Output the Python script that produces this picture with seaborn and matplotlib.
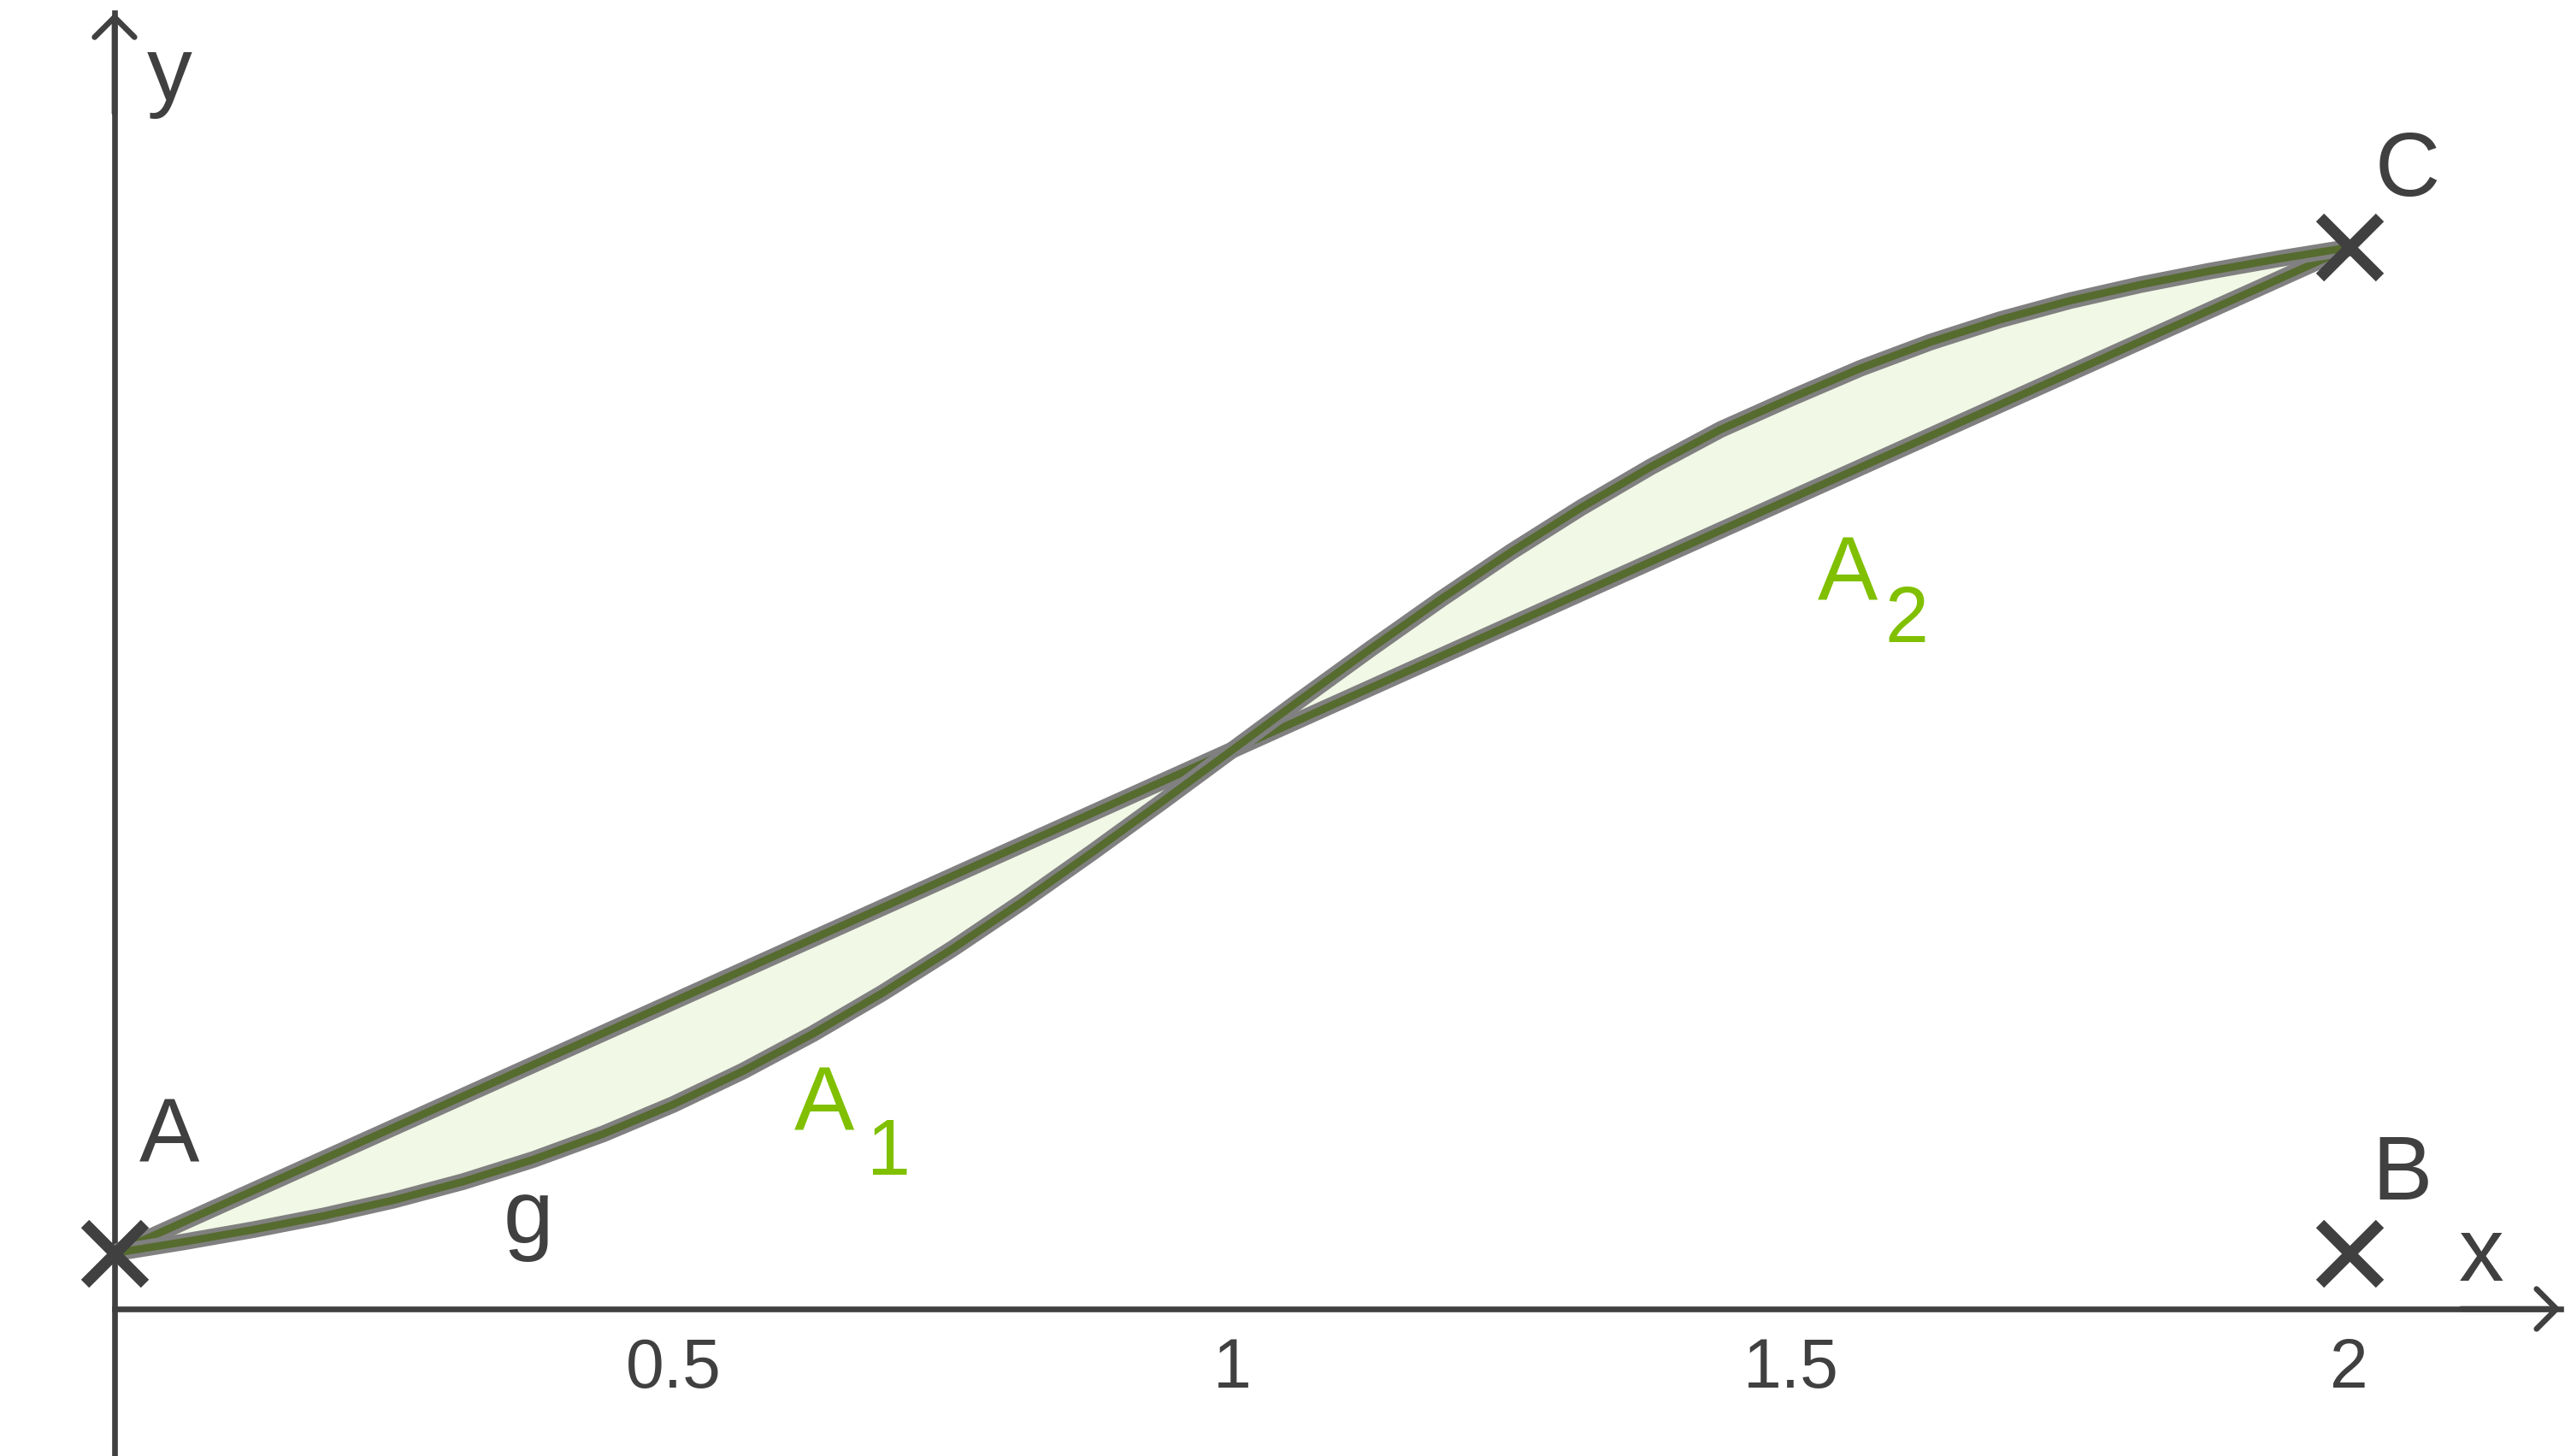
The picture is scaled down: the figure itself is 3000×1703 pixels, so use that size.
import numpy as np
import matplotlib
matplotlib.use('Agg')
import matplotlib.pyplot as plt
import matplotlib.patheffects as pe
import seaborn as sns

# values
curve_x = [0, 0.0625, 0.125, 0.1875, 0.25, 0.3125, 0.375, 0.4375, 0.5,
           0.5625, 0.625, 0.6875, 0.75, 0.8125, 0.875, 0.9375, 1.0,
           1.0625, 1.125, 1.1875, 1.25, 1.3125, 1.375, 1.4375, 1.5,
           1.5625, 1.625, 1.6875, 1.75, 1.8125, 1.875, 1.9375, 2.0]
curve_y = [0.05, 0.0601, 0.0711, 0.0833, 0.0974, 0.1141, 0.1338, 0.1567, 0.183,
           0.2129, 0.2463, 0.2829, 0.3224, 0.3645, 0.4086, 0.4539, 0.5,
           0.5461, 0.5914, 0.6355, 0.6776, 0.7171, 0.7537, 0.7871, 0.8150,
           0.8418, 0.8652, 0.8853, 0.9023, 0.9165, 0.9288, 0.9399, 0.95]

line_x = [0, 2]
line_y = [0.05, 0.95]

point_names = ['A', 'B', 'C']
point_x = [0, 2, 2]
point_y = [0.05, 0.05, 0.95]

xticks = [0.5, 1, 1.5, 2]
xtick_labels = ['0.5', '1', '1.5', '2']

xlim = (-0.1025, 2.193)
ylim = (-0.1316, 1.1714)

dark = '#404040'
olive = '#566b2e'
halo = '#808080'
lime = '#80c000'
fill_col = '#f1f8e6'

sns.set_theme(style='white')
plt.rcParams['font.family'] = ['Liberation Sans', 'DejaVu Sans']

fig = plt.figure(figsize=(15, 8.515), dpi=200)
ax = fig.add_axes([0, 0, 1, 1])
ax.set_xlim(*xlim)
ax.set_ylim(*ylim)

# shaded areas between line AC and curve g
ax.fill(line_x + curve_x[::-1], line_y + curve_y[::-1], color=fill_col, lw=0, zorder=1)

stroke = [pe.Stroke(linewidth=7.0, foreground=halo), pe.Normal()]
for xs, ys in [(line_x, line_y), (curve_x, curve_y)]:
    sns.lineplot(x=xs, y=ys, ax=ax, color=olive, lw=3.2, sort=False,
                 path_effects=stroke, zorder=3, solid_joinstyle='round',
                 solid_capstyle='butt')

# points
ax.plot(point_x, point_y, ls='none', marker='x', ms=25, mew=4.8, color=dark, zorder=5)

# axes with arrows
for s in ['top', 'right']:
    ax.spines[s].set_visible(False)
ax.spines['bottom'].set_position(('data', 0))
ax.spines['left'].set_position(('data', 0))
ax.spines['bottom'].set_bounds(0, 2.189)
ax.spines['left'].set_bounds(ylim[0], 1.1596)
for s in ['bottom', 'left']:
    ax.spines[s].set_color(dark)
    ax.spines[s].set_linewidth(2.4)
    ax.spines[s].set_zorder(2)

arr = dict(arrowstyle='->,head_length=0.42,head_width=0.42', color=dark, lw=2.4,
           shrinkA=0, shrinkB=0, mutation_scale=20)
ax.annotate('', xy=(2.189, 0), xytext=(2.1, 0), arrowprops=arr)
ax.annotate('', xy=(0, 1.1596), xytext=(0, 1.07), arrowprops=arr)

ax.set_xticks(xticks, xtick_labels)
ax.set_yticks([])
ax.tick_params(axis='x', length=0, pad=12, labelsize=29, labelcolor=dark)

# labels
fs = 38
ax.text(0.022, 0.132, 'A', fontsize=fs, color=dark, ha='left', va='baseline')
ax.text(2.020, 0.098, 'B', fontsize=fs, color=dark, ha='left', va='baseline')
ax.text(2.023, 0.996, 'C', fontsize=fs, color=dark, ha='left', va='baseline')
ax.text(0.348, 0.0586, 'g', fontsize=fs, color=dark, ha='left', va='baseline')
ax.text(0.029, 1.082, 'y', fontsize=fs, color=dark, ha='left', va='baseline')
ax.text(2.098, 0.025, 'x', fontsize=fs, color=dark, ha='left', va='baseline')

ax.text(0.608, 0.160, 'A', fontsize=fs, color=lime, ha='left', va='baseline')
ax.text(0.673, 0.120, '1', fontsize=33, color=lime, ha='left', va='baseline')
ax.text(1.524, 0.635, 'A', fontsize=fs, color=lime, ha='left', va='baseline')
ax.text(1.584, 0.597, '2', fontsize=33, color=lime, ha='left', va='baseline')

fig.savefig('out.png', dpi=200, facecolor='white')
